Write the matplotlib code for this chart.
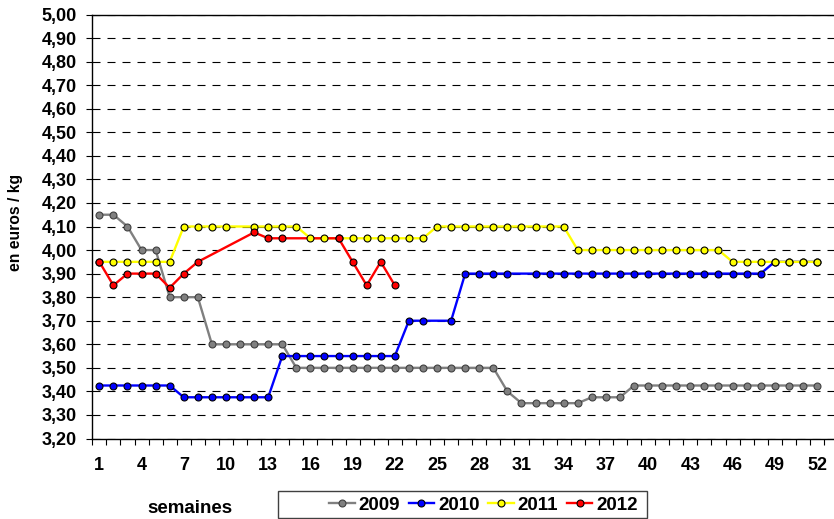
import numpy as np
import matplotlib
matplotlib.use("Agg")
import matplotlib.pyplot as plt
from matplotlib.lines import Line2D
from matplotlib.patches import Rectangle
from matplotlib.ticker import FixedLocator

plt.rcParams['font.family'] = ['Liberation Sans', 'DejaVu Sans']
plt.rcParams['font.weight'] = 'bold'

nan = np.nan
weeks = np.arange(1, 53)

s2009 = ([4.15, 4.15, 4.10, 4.00, 4.00, 3.80, 3.80, 3.80,
          3.60, 3.60, 3.60, 3.60, 3.60, 3.60]
         + [3.50] * 15
         + [3.40, 3.35, 3.35, 3.35, 3.35, 3.35, 3.375, 3.375, 3.375]
         + [3.425] * 14)
s2010 = ([3.425] * 6 + [3.375] * 7 + [3.55] * 9
         + [3.70, 3.70, nan, 3.70]
         + [3.90] * 4 + [nan] + [3.90] * 17
         + [3.95] * 4)
s2011 = ([3.95] * 6 + [4.10] * 4 + [nan] + [4.10] * 4
         + [4.05] * 9 + [4.10] * 10 + [4.00] * 11 + [3.95] * 7)
s2012 = ([3.95, 3.85, 3.90, 3.90, 3.90, 3.84, 3.90, 3.95, nan, nan, nan,
          4.075, 4.05, 4.05, nan, nan, nan, 4.05, 3.95, 3.85, 3.95, 3.85]
         + [nan] * 30)

series_labels = ['2009', '2010', '2011', '2012']
series_values = [s2009, s2010, s2011, s2012]
series_colors = ['#808080', '#0000FF', '#FFFF00', '#FF0000']
marker_edges = ['#404040', '#000000', '#000000', '#000000']

y_ticks = [round(3.20 + 0.1 * i, 2) for i in range(19)]
y_tick_labels = [f"{v:.2f}".replace('.', ',') for v in y_ticks]
x_label_weeks = list(range(1, 53, 3))
x_tick_labels = [str(w) for w in x_label_weeks]

W, H = 834, 519
fig = plt.figure(figsize=(W / 100, H / 100), dpi=100)
left_px, right_px, top_px, bottom_px = 92.3, 834, 14.5, 438.5
ax = fig.add_axes([left_px / W, 1 - bottom_px / H,
                   (right_px - left_px) / W, (bottom_px - top_px) / H])

px_per_week = (824 - 92.3) / 52.0
ax.set_xlim(0.5, 0.5 + (right_px - left_px) / px_per_week)
ax.set_ylim(3.20, 5.00)

lw = 1.7
ms = 5
for i, (vals, col, mec) in enumerate(zip(series_values, series_colors, marker_edges)):
    v = np.array(vals, dtype=float)
    m = ~np.isnan(v)
    ax.plot(weeks[m], v[m], color=col, lw=lw, zorder=2, solid_joinstyle='round')
for i, (vals, col, mec) in enumerate(zip(series_values, series_colors, marker_edges)):
    v = np.array(vals, dtype=float)
    m = ~np.isnan(v)
    ax.plot(weeks[m], v[m], linestyle='none', marker='o', ms=ms,
            mfc=col, mec=mec, mew=0.8, zorder=3 + i)

# y axis
ax.set_yticks(y_ticks)
ax.set_yticklabels(y_tick_labels, fontsize=13, fontweight='bold')
ax.tick_params(axis='y', direction='out', length=4.3, width=0.8, pad=6.8, colors='black')
ax.yaxis.grid(True, color='black', linewidth=0.8, linestyle=(0, (7.2, 6.3)))
ax.set_axisbelow(True)

# x axis
ax.set_xticks(x_label_weeks)
ax.set_xticklabels(x_tick_labels, fontsize=13, fontweight='bold')
ax.xaxis.set_minor_locator(FixedLocator(np.arange(0.5, 53, 1.0)))
ax.tick_params(axis='x', which='major', length=0, pad=13.5)
ax.tick_params(axis='x', which='minor', direction='out', length=4, width=0.8)

for side in ['left', 'bottom', 'top']:
    ax.spines[side].set_color('black')
    ax.spines[side].set_linewidth(1.0)
ax.spines['right'].set_visible(False)

ax.set_ylabel('en euros / kg', fontsize=11.3, fontweight='bold')
ax.yaxis.set_label_coords((23.5 - left_px) / (right_px - left_px), 0.51)

fig.text(189.5 / W, 1 - 512.7 / H, 'semaines', ha='center', va='baseline',
         fontsize=13.5, fontweight='bold')

handles = [Line2D([], [], color=c, lw=lw, marker='o', ms=ms, mfc=c, mec=e, mew=0.8)
           for c, e in zip(series_colors, marker_edges)]
fig.legend(handles, series_labels, loc='center',
           bbox_to_anchor=(483.4 / W, 1 - 505 / H), ncol=4, frameon=False,
           prop={'size': 13.5, 'weight': 'bold'}, handlelength=1.37,
           handletextpad=0.2, columnspacing=0.46, borderaxespad=0, borderpad=0)
fig.add_artist(Rectangle((277.7 / W, 1 - 517.5 / H), (646.7 - 277.7) / W,
                         (517.5 - 490.7) / H, transform=fig.transFigure,
                         fill=False, edgecolor='#404040', lw=1.0))

fig.savefig('out.png', dpi=100)
